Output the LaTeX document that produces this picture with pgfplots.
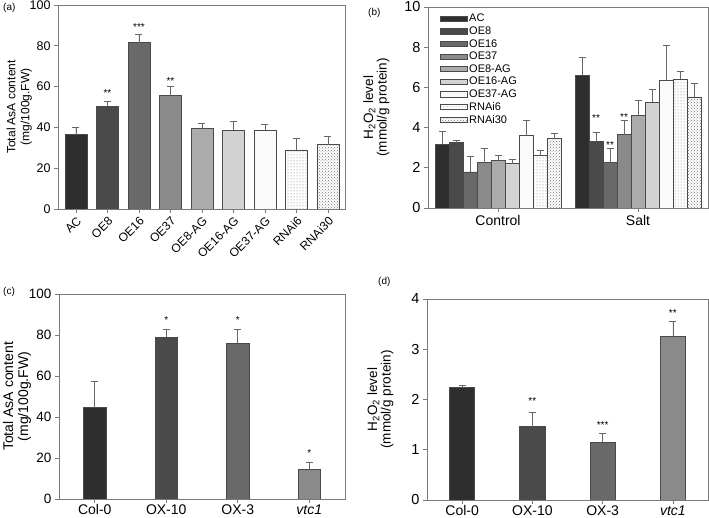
\documentclass[border=0pt]{standalone}
\usepackage{pgfplots}
\pgfplotsset{compat=1.18}
\usetikzlibrary{patterns}
\usepackage{fontspec}
\setmainfont{Liberation Sans}
\definecolor{c1}{HTML}{2E2E2E}
\definecolor{c2}{HTML}{4A4A4A}
\definecolor{c3}{HTML}{696969}
\definecolor{c4}{HTML}{8A8A8A}
\definecolor{c5}{HTML}{ABABAB}
\definecolor{c6}{HTML}{D3D3D3}
\definecolor{c7}{HTML}{FAFAFA}
\definecolor{frame}{HTML}{7A7A7A}
\definecolor{edge}{HTML}{4A4A4A}
\newcommand{\fs}[1]{\fontsize{#1}{#1}\selectfont}
\tikzset{sig/.style={font=\fs{10}, inner sep=0pt, yshift=-1.5pt}}
\pgfplotsset{
  panel/.style={
    scale only axis,
    axis line style={draw=frame, line width=0.7pt},
    tick style={draw=frame, line width=0.6pt},
    tick align=outside, major tick length=4pt,
    xtick pos=bottom, ytick pos=left,
    ymin=0,
    /pgf/number format/assume math mode=true,
    ylabel style={align=center},
  },
  eb/.style={draw=edge, line width=0.6pt,
    /pgfplots/error bars/y dir=plus,
    /pgfplots/error bars/y explicit,
    /pgfplots/error bars/error bar style={draw=black!60, line width=0.6pt},
    /pgfplots/error bars/error mark options={rotate=90, mark size=3.5pt, draw=black!60, line width=0.6pt}},
  bs/.style={eb, bar shift=0pt},
}
\begin{document}
\begin{tikzpicture}
\useasboundingbox (0,0) rectangle (709pt,518pt);
% ---------- (a)
\begin{axis}[panel, at={(58pt,309pt)}, anchor=south west, width=287pt, height=204pt,
  ybar, bar width=0.7, xmin=-0.57, xmax=8.54, ymax=100, ytick={0,20,...,100},
  xtick={0,...,8}, xticklabels={AC,OE8,OE16,OE37,OE8-AG,OE16-AG,OE37-AG,RNAi6,RNAi30},
  xticklabel style={rotate=45, anchor=north east, font=\fs{12}, inner sep=2pt},
  yticklabel style={font=\fs{12.5}},
  ylabel={Total AsA content\\(mg/100g.FW)}, ylabel style={font=\fontsize{12}{14}\selectfont},
  ylabel shift=-9pt,
]
\addplot[bs, fill=c1] coordinates {(0,36.5) +- (0,3.5)};
\addplot[bs, fill=c2] coordinates {(1,50.5) +- (0,2.5)};
\addplot[bs, fill=c3] coordinates {(2,81.5) +- (0,4.0)};
\addplot[bs, fill=c4] coordinates {(3,55.5) +- (0,4.5)};
\addplot[bs, fill=c5] coordinates {(4,39.5) +- (0,2.5)};
\addplot[bs, fill=c6] coordinates {(5,38.5) +- (0,4.5)};
\addplot[bs, fill=c7] coordinates {(6,38.5) +- (0,3.0)};
\addplot[bs, fill=white, postaction={pattern=dots, pattern color=black!55}] coordinates {(7,29.0) +- (0,5.5)};
\addplot[bs, fill=white, postaction={pattern=crosshatch dots, pattern color=black!55}] coordinates {(8,31.5) +- (0,4.0)};
\node[sig] at (axis cs:1,57.6) {**};
\node[sig] at (axis cs:2,90) {***};
\node[sig] at (axis cs:3,63.3) {**};
\end{axis}
% ---------- (b)
\begin{axis}[panel, at={(428pt,310pt)}, anchor=south west, width=280pt, height=201pt,
  ybar=0pt, bar width=0.1, xmin=-0.5, xmax=1.5, ymax=10, ytick={0,2,...,10},
  xtick={0,1}, xticklabels={Control,Salt},
  xticklabel style={font=\fs{14}},
  yticklabel style={font=\fs{14.5}},
  ylabel={H\textsubscript{2}O\textsubscript{2} level\\(mmol/g protein)}, ylabel style={font=\fontsize{13.5}{13.5}\selectfont},
  ylabel shift=8pt,
  legend style={at={(0.03,0.985)}, anchor=north west, draw=none, fill=none, font=\fs{11}, row sep=-0.6pt,
    /tikz/every even column/.append style={column sep=3pt}},
  legend cell align=left,
  legend image code/.code={\draw[#1] (0pt,-2.6pt) rectangle (27pt,2.6pt);},
]
\addplot[eb, fill=c1] coordinates {(0,3.15) +- (0,0.65) (1,6.6) +- (0,0.9)};
\addplot[eb, fill=c2] coordinates {(0,3.25) +- (0,0.1) (1,3.3) +- (0,0.45)};
\addplot[eb, fill=c3] coordinates {(0,1.8) +- (0,0.75) (1,2.25) +- (0,0.7)};
\addplot[eb, fill=c4] coordinates {(0,2.25) +- (0,0.7) (1,3.65) +- (0,0.7)};
\addplot[eb, fill=c5] coordinates {(0,2.35) +- (0,0.25) (1,4.6) +- (0,0.75)};
\addplot[eb, fill=c6] coordinates {(0,2.2) +- (0,0.2) (1,5.25) +- (0,0.65)};
\addplot[eb, fill=c7] coordinates {(0,3.6) +- (0,0.75) (1,6.35) +- (0,1.75)};
\addplot[eb, fill=white, postaction={pattern=dots, pattern color=black!55}] coordinates {(0,2.6) +- (0,0.25) (1,6.4) +- (0,0.4)};
\addplot[eb, fill=white, postaction={pattern=crosshatch dots, pattern color=black!55}] coordinates {(0,3.45) +- (0,0.25) (1,5.5) +- (0,0.7)};
\legend{AC,OE8,OE16,OE37,OE8-AG,OE16-AG,OE37-AG,RNAi6,RNAi30}
\node[sig] at (axis cs:0.7,4.55) {**};
\node[sig] at (axis cs:0.8,3.2) {**};
\node[sig] at (axis cs:0.9,4.6) {**};
\end{axis}
% ---------- (c)
\begin{axis}[panel, at={(59pt,19pt)}, anchor=south west, width=286pt, height=205pt,
  ybar, bar width=0.31, xmin=-0.5, xmax=3.5, ymax=100, ytick={0,20,...,100},
  xtick={0,...,3}, xticklabels={Col-0,OX-10,OX-3,\textit{vtc1}},
  xticklabel style={font=\fs{14}, inner sep=1.5pt},
  yticklabel style={font=\fs{13.5}},
  ylabel={Total AsA content\\(mg/100g.FW)}, ylabel style={font=\fontsize{14}{15}\selectfont},
  ylabel shift=-9pt,
]
\addplot[bs, fill=c1] coordinates {(0,44.5) +- (0,13.0)};
\addplot[bs, fill=c2] coordinates {(1,79.0) +- (0,4.0)};
\addplot[bs, fill=c3] coordinates {(2,76.0) +- (0,7.0)};
\addplot[bs, fill=c4] coordinates {(3,14.5) +- (0,3.5)};
\node[sig] at (axis cs:1,87.8) {*};
\node[sig] at (axis cs:2,87.8) {*};
\node[sig] at (axis cs:3,23.3) {*};
\end{axis}
% ---------- (d)
\begin{axis}[panel, at={(427pt,18pt)}, anchor=south west, width=281pt, height=201pt,
  ybar, bar width=0.36, xmin=-0.5, xmax=3.5, ymax=4, ytick={0,1,...,4},
  xtick={0,...,3}, xticklabels={Col-0,OX-10,OX-3,\textit{vtc1}},
  xticklabel style={font=\fs{14}, inner sep=1.5pt},
  yticklabel style={font=\fs{14.5}},
  ylabel={H\textsubscript{2}O\textsubscript{2} level\\(mmol/g protein)}, ylabel style={font=\fontsize{13.5}{13.5}\selectfont},
  ylabel shift=11pt,
]
\addplot[bs, fill=c1] coordinates {(0,2.25) +- (0,0.03)};
\addplot[bs, fill=c2] coordinates {(1,1.46) +- (0,0.29)};
\addplot[bs, fill=c3] coordinates {(2,1.15) +- (0,0.18)};
\addplot[bs, fill=c4] coordinates {(3,3.26) +- (0,0.29)};
\node[sig] at (axis cs:1,2.0) {**};
\node[sig] at (axis cs:2,1.53) {***};
\node[sig] at (axis cs:3,3.75) {**};
\end{axis}
\node[font=\fs{10}, anchor=west, inner sep=0pt] at (3pt,510pt) {(a)};
\node[font=\fs{10}, anchor=west, inner sep=0pt] at (368pt,505pt) {(b)};
\node[font=\fs{10}, anchor=west, inner sep=0pt] at (3pt,226pt) {(c)};
\node[font=\fs{10}, anchor=west, inner sep=0pt] at (378pt,236pt) {(d)};
\end{tikzpicture}
\end{document}
